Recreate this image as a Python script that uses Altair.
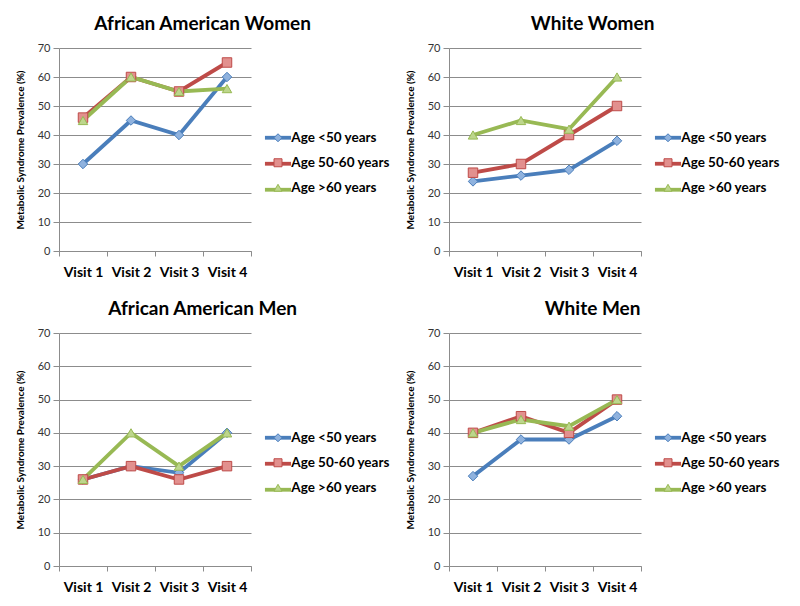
import altair as alt
import pandas as pd

# categories
visits = ["Visit 1", "Visit 2", "Visit 3", "Visit 4"]
groups = ["Age <50 years", "Age 50-60 years", "Age >60 years"]

# African American Women
aaw_lt50 = [30, 45, 40, 60]
aaw_50_60 = [46, 60, 55, 65]
aaw_gt60 = [45, 60, 55, 56]

# White Women
ww_lt50 = [24, 26, 28, 38]
ww_50_60 = [27, 30, 40, 50]
ww_gt60 = [40, 45, 42, 60]

# African American Men
aam_lt50 = [26, 30, 28, 40]
aam_50_60 = [26, 30, 26, 30]
aam_gt60 = [26, 40, 30, 40]

# White Men
wm_lt50 = [27, 38, 38, 45]
wm_50_60 = [40, 45, 40, 50]
wm_gt60 = [40, 44, 42, 50]

line_colors = ["#4A7EBB", "#BE4B48", "#98B954"]
marker_fills = ["#8FB2DE", "#E2908E", "#BDD68C"]
shapes = ["diamond", "square", "triangle-up"]
FONT = "Lato"
GRID = "#8C8C8C"


def legend(ly, **kw):
    return alt.Legend(orient="none", legendX=206, legendY=ly, title=None,
                      direction="vertical", padding=0, rowPadding=10,
                      symbolOffset=6.25, labelOffset=6.5, labelFont=FONT,
                      labelFontSize=13.5, labelFontWeight="bold",
                      labelColor="black", **kw)


def panel(title, series, height, ly):
    rows = []
    for g, vals in zip(groups, series):
        for v, val in zip(visits, vals):
            rows.append({"visit": v, "group": g, "value": val})
    df = pd.DataFrame(rows)

    x = alt.X("visit:N", sort=visits, title=None,
              scale=alt.Scale(type="band", paddingInner=0, paddingOuter=0),
              axis=alt.Axis(labelAngle=0, tickBand="extent", grid=False,
                            domainColor=GRID, tickColor=GRID, tickSize=5,
                            labelPadding=9.5, labelFont=FONT, labelFontSize=14,
                            labelFontWeight="bold", labelColor="black"))
    y = alt.Y("value:Q", scale=alt.Scale(domain=[0, 70], nice=False),
              axis=alt.Axis(values=list(range(0, 71, 10)),
                            title="Metabolic Syndrome Prevalence (%)",
                            titleFont=FONT, titleFontSize=10,
                            titleFontWeight="bold", titleColor="black",
                            titlePadding=12, grid=True, gridColor=GRID,
                            domainColor=GRID, tickColor=GRID, tickSize=6,
                            labelPadding=3, labelFont=FONT, labelFontSize=11,
                            labelColor="#333333"))

    lines = alt.Chart(df).mark_line(strokeWidth=3.8).encode(
        x=x, y=y,
        color=alt.Color("group:N", sort=groups,
                        scale=alt.Scale(range=line_colors),
                        legend=legend(ly, symbolType="M-2.9,0H2.9",
                                      symbolSize=81, symbolStrokeWidth=3.8,
                                      labelOpacity=0))
    )

    pleg = legend(ly, symbolSize=64, symbolStrokeWidth=1)
    points = alt.Chart(df).mark_point(size=90, strokeWidth=1, opacity=1).encode(
        x=x, y=y,
        shape=alt.Shape("group:N", scale=alt.Scale(domain=groups, range=shapes), legend=pleg),
        fill=alt.Fill("group:N", scale=alt.Scale(domain=groups, range=marker_fills), legend=pleg),
        stroke=alt.Stroke("group:N", scale=alt.Scale(domain=groups, range=line_colors), legend=pleg)
    )

    return alt.layer(lines, points).properties(
        width=192, height=height,
        title=alt.TitleParams(title, font=FONT, fontSize=19, fontWeight="bold",
                              color="black", anchor="middle", frame="bounds",
                              offset=8)
    )


indep = dict(color="independent", shape="independent", fill="independent",
             stroke="independent", x="independent", y="independent")

chart = alt.concat(
    panel("African American Women", [aaw_lt50, aaw_50_60, aaw_gt60], 203, 83),
    panel("White Women", [ww_lt50, ww_50_60, ww_gt60], 203, 83),
    panel("African American Men", [aam_lt50, aam_50_60, aam_gt60], 233, 98),
    panel("White Men", [wm_lt50, wm_50_60, wm_gt60], 233, 98),
    columns=2, spacing={"row": 82, "column": 198}, bounds="flush", align="each"
).resolve_scale(**indep).properties(
    padding={"left": 7, "top": 7, "right": 0, "bottom": 0},
    background="white"
).configure_view(stroke=None)

chart.save("out.html", embed_options={"renderer": "svg", "actions": False})
